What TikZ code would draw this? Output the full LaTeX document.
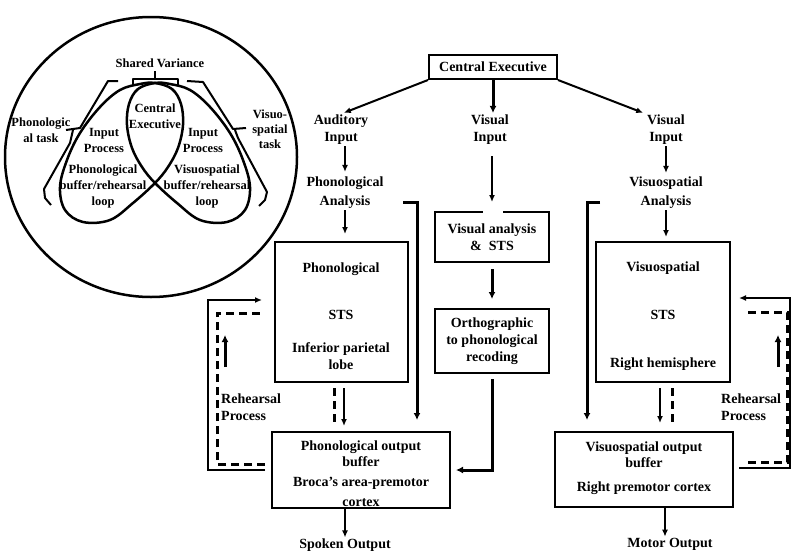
\documentclass[tikz,border=0pt]{standalone}
\usepackage{fontspec}
\setmainfont{Liberation Serif}
\usetikzlibrary{arrows.meta,calc}
\begin{document}
\begin{tikzpicture}[x=1pt,y=-1pt,
  box/.style={draw,line width=2pt,inner sep=0pt},
  mtxt/.style={font=\fontsize{14}{17}\selectfont\bfseries,align=center,inner sep=1pt},
  ctxt/.style={font=\fontsize{12.5}{16}\selectfont\bfseries,align=center,inner sep=1pt},
  arr/.style={line width=2pt,-{Latex[length=7pt,width=6pt]}},
  tarr/.style={line width=3pt,-{Latex[length=7pt,width=7pt]}},
  dsh/.style={line width=3pt,dash pattern=on 8pt off 5pt},
  ln/.style={line width=2pt,line join=round},
  curve/.style={line width=2.5pt,line join=round}]
\useasboundingbox (0,0) rectangle (791,554);

% ---------------- circle model ----------------
\draw[curve] (151,157) ellipse [x radius=146pt, y radius=140pt];
\draw[curve] plot[smooth cycle, tension=0.6] coordinates {(155,83) (140,84) (120,90) (100,107) (80,133) (67,160) (60,187) (65,210) (83,222) (110,220) (133,203) (155,183) (168,167) (178,148) (183,125) (181,104) (172,89)};
\draw[curve] plot[smooth cycle, tension=0.6] coordinates {(155,83) (170,84) (190,90) (210,107) (230,133) (243,160) (250,187) (245,210) (227,222) (200,220) (177,203) (155,183) (142,167) (132,148) (127,125) (129,104) (138,89)};
% shared variance brace
\draw[ln] (133,86) -- (133,79) -- (178,79) -- (178,86);
\draw[ln] (155,79) -- (155,71);
% task brackets
\draw[ln] (118,81) -- (108,81) -- (80,128) -- (66,130);
\draw[ln] (73,130) -- (70,143) -- (44,189) -- (45,198) -- (51,205);
\draw[ln] (187,81) -- (203,82) -- (233,129) -- (246,128);
\draw[ln] (235,130) -- (238,138) -- (267,192) -- (265,200) -- (259,206);

\node[ctxt] (sv) at (160,63) {Shared Variance};
\node[ctxt] (cex) at (155,116) {Central\\Executive};
\node[ctxt] (ipl) at (104,140) {Input\\Process};
\node[ctxt] (ipr) at (203,140) {Input\\Process};
\node[ctxt] (pbl) at (103,186) {Phonological\\buffer/rehearsal\\loop};
\node[ctxt] (vbr) at (207,186) {Visuospatial\\buffer/rehearsal\\loop};
\node[ctxt] (ptask) at (41,130) {Phonologic\\al task};
\node[ctxt,font=\fontsize{12.5}{15}\selectfont\bfseries] (vtask) at (270,129) {Visuo-\\spatial\\task};

% ---------------- boxes ----------------
\node[box,mtxt,minimum width=128pt,minimum height=24pt] (ce) at (493,67) {Central Executive};
\node[box,mtxt,minimum width=114pt,minimum height=50pt] (vab) at (492,237) {Visual analysis\\\&\ \ STS};
\node[box,mtxt,minimum width=114pt,minimum height=64pt] (ortho) at (492,341) {Orthographic\\to phonological\\recoding};
\node[box,minimum width=133pt,minimum height=140pt] (pst) at (341.5,312) {};
\node[box,minimum width=134pt,minimum height=140pt] (vst) at (663,312) {};
\node[box,minimum width=178pt,minimum height=76pt] (pob) at (361,470) {};
\node[box,minimum width=178pt,minimum height=75pt] (vob) at (644,469.5) {};

\node[mtxt] (pstT) at (341,316) {Phonological\\[30pt]STS\\[16pt]Inferior parietal\\lobe};
\node[mtxt] (vstT) at (663,316) {Visuospatial\\[31pt]STS\\[31pt]Right hemisphere};
\node[mtxt] (pobT) at (361,474) {Phonological output\\[-1pt]buffer\\[3pt]Broca's area-premotor\\[3pt]cortex};
\node[mtxt] (vobT) at (644,468) {Visuospatial output\\[-1pt]buffer\\[7pt]Right premotor cortex};

% ---------------- labels ----------------
\node[mtxt] (ai) at (341,130) {Auditory\\Input};
\node[mtxt] (vi) at (490,130) {Visual\\Input};
\node[mtxt] (vi2) at (666,130) {Visual\\Input};
\node[mtxt] (pa) at (345,193) {Phonological\\[2pt]Analysis};
\node[mtxt] (va) at (666,193) {Visuospatial\\[2pt]Analysis};
\node[mtxt] (so) at (345,545) {Spoken Output};
\node[mtxt] (mo) at (670,544) {Motor Output};
\node[mtxt,align=left,anchor=west] (rl) at (220,407) {Rehearsal\\Process};
\node[mtxt,align=left,anchor=west] (rr) at (720,407) {Rehearsal\\Process};

% ---------------- connectors ----------------
\draw[arr,shorten >=3pt] (ce.south west) -- (ai.north);
\draw[tarr,shorten >=1pt] (ce.south) -- (ce.south |- vi.north);
\draw[arr,shorten >=3pt] (ce.south east) -- (vi2.north west);

\draw[arr,shorten >=4pt] (pa.north |- ai.south) -- (pa.north);
\draw[arr,shorten >=3pt] (va.north |- vi2.south) -- (va.north);
\draw[arr,shorten >=7pt] (pa.south) -- (pa.south |- pst.north);
\draw[arr,shorten >=4pt] (va.south) -- (va.south |- vst.north);

\draw[arr,shorten <=10pt,shorten >=9pt] (vab.north |- vi.south) -- (vab.north);
\draw[white,line width=3pt] ([xshift=-9pt]vab.north) -- ([xshift=11pt]vab.north);
\draw[tarr,shorten <=6pt,shorten >=9pt] (vab.south) -- (ortho.north);
\draw[tarr,shorten <=5pt,shorten >=5pt] (ortho.south) |- (pob.east);

\coordinate (paR) at (403,202);
\coordinate (paD) at (417,420);
\draw[tarr] (paR) -| (paD);
\coordinate (vaL) at (600,202);
\coordinate (vaD) at (587,420);
\draw[tarr] (vaL) -| (vaD);

\draw[arr,shorten <=5pt,shorten >=5pt] ([xshift=2.5pt]pst.south) -- ([xshift=2.5pt]pst.south |- pob.north);
\draw[dsh,shorten <=5pt,shorten >=8pt] ([xshift=-7.5pt]pst.south) -- ([xshift=-7.5pt]pst.south |- pob.north);
\draw[arr,shorten <=5pt,shorten >=8pt] ([xshift=-3pt]vst.south) -- ([xshift=-3pt]vst.south |- vob.north);
\draw[dsh,shorten <=5pt,shorten >=8pt] ([xshift=9pt]vst.south) -- ([xshift=9pt]vst.south |- vob.north);

\draw[arr] (so.north |- pob.south) -- (so.north);
\draw[arr] ([xshift=-5pt]mo.north |- vob.south) -- ([xshift=-5pt]mo.north);

% rehearsal loops
\coordinate (lTop) at (208,300);
\coordinate (lDT) at (217,313);
\draw[arr] ([xshift=-6pt]pob.west) -| (lTop) -- ([xshift=-12pt]pst.west |- lTop);
\draw[dsh] ([xshift=-6pt,yshift=6pt]pob.west) -| (lDT) -- ([xshift=-13pt]pst.west |- lDT);
\coordinate (lUa) at (225,367);
\coordinate (lUb) at (225,335);
\draw[tarr] (lUa) -- (lUb);

\coordinate (rTop) at (790,298);
\coordinate (rDT) at (787,312);
\draw[arr] ([xshift=5pt,yshift=2pt]vob.east) -| (rTop) -- ([xshift=8pt]vst.east |- rTop);
\draw[dsh] ([xshift=14pt,yshift=7pt]vob.east) -| (rDT) -- ([xshift=15pt]vst.east |- rDT);
\coordinate (rUa) at (778,367);
\coordinate (rUb) at (778,335);
\draw[tarr] (rUa) -- (rUb);
\end{tikzpicture}
\end{document}
